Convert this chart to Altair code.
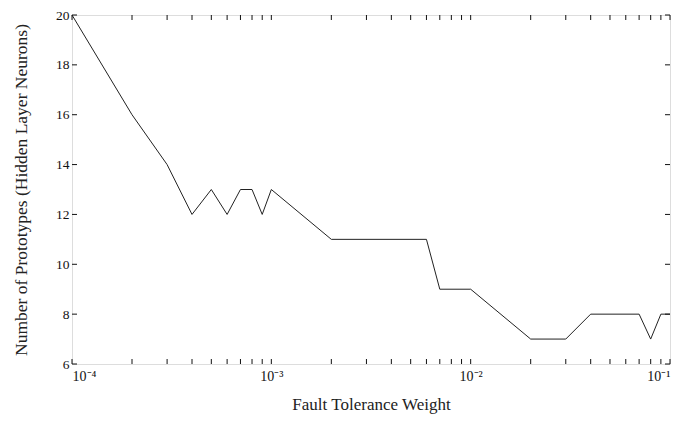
import altair as alt
import pandas as pd

# data
weights = [1e-4, 2e-4, 3e-4, 4e-4, 5e-4, 6e-4, 7e-4, 8e-4, 9e-4, 1e-3,
           2e-3, 6e-3, 7e-3, 1e-2, 2e-2, 3e-2, 4e-2, 7e-2, 8e-2, 9e-2, 1e-1]
prototypes = [20, 16, 14, 12, 13, 12, 13, 13, 12, 13,
              11, 11, 9, 9, 7, 7, 8, 8, 7, 8, 8]

decades = [1e-4, 1e-3, 1e-2, 1e-1]
x_ticks = [m * d for d in [1e-4, 1e-3, 1e-2] for m in range(1, 10)] + [1e-1]
y_ticks = [6, 8, 10, 12, 14, 16, 18, 20]

W, H = 598, 349
FONT = "Liberation Serif"

df = pd.DataFrame({"w": weights, "n": prototypes})
xt = pd.DataFrame({"w": x_ticks})
yt = pd.DataFrame({"n": y_ticks})

xscale = alt.Scale(type="log", domain=[1e-4, 1e-1], nice=False)
yscale = alt.Scale(domain=[6, 20], nice=False, zero=False)

line = alt.Chart(df).mark_line(color="#222222", strokeWidth=1).encode(
    x=alt.X("w:Q", scale=xscale,
            axis=alt.Axis(values=decades, title="Fault Tolerance Weight",
                          labelExpr="datum.value < 0.0005 ? '10⁻⁴' : datum.value < 0.005 ? '10⁻³' : datum.value < 0.05 ? '10⁻²' : '10⁻¹'",
                          ticks=False, domain=False, grid=False,
                          labelFont=FONT, labelFontSize=14, labelColor="#111",
                          labelPadding=5,
                          titleFont=FONT, titleFontSize=17, titleFontWeight="normal",
                          titleColor="#222", titlePadding=13)),
    y=alt.Y("n:Q", scale=yscale,
            axis=alt.Axis(values=y_ticks, title="Number of Prototypes (Hidden Layer Neurons)",
                          ticks=False, domain=False, grid=False,
                          labelFont=FONT, labelFontSize=13.5, labelColor="#111",
                          labelPadding=3,
                          titleFont=FONT, titleFontSize=17.5, titleFontWeight="normal",
                          titleColor="#222", titlePadding=25)),
)

xb = alt.Chart(xt).mark_rule(color="#111", strokeWidth=1).encode(
    x=alt.X("w:Q", scale=xscale), y=alt.value(H), y2=alt.value(H - 5))
xtop = alt.Chart(xt).mark_rule(color="#111", strokeWidth=1).encode(
    x=alt.X("w:Q", scale=xscale), y=alt.value(0), y2=alt.value(5))
yl = alt.Chart(yt).mark_rule(color="#111", strokeWidth=1).encode(
    y=alt.Y("n:Q", scale=yscale), x=alt.value(0), x2=alt.value(5))
yr = alt.Chart(yt).mark_rule(color="#111", strokeWidth=1).encode(
    y=alt.Y("n:Q", scale=yscale), x=alt.value(W), x2=alt.value(W - 5))

chart = alt.layer(line, xb, xtop, yl, yr).properties(
    width=W, height=H,
    autosize=alt.AutoSizeParams(type="none"),
    padding={"left": 64, "top": 7, "right": 19, "bottom": 51},
).configure_view(stroke="#111", strokeWidth=1.2).configure(background="white")

chart.save("out.html", embed_options={"renderer": "svg", "actions": False})
